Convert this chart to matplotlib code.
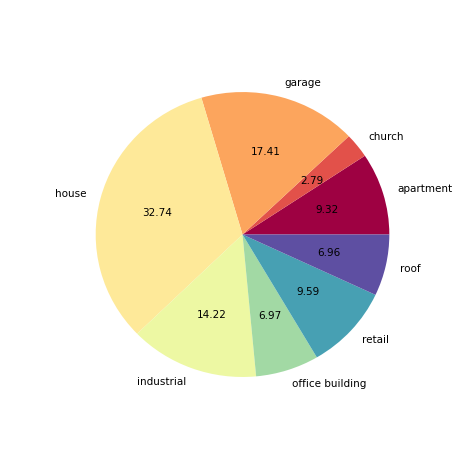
import numpy as np
import matplotlib
matplotlib.use("Agg")
import matplotlib.pyplot as plt

labels = ['apartment', 'church', 'garage', 'house', 'industrial',
          'office building', 'retail', 'roof']
values = [9.32, 2.79, 17.41, 32.74, 14.22, 6.97, 9.59, 6.96]

colors = plt.cm.Spectral(np.linspace(0, 1, len(values)))

fig = plt.figure(figsize=(4.73, 4.73), dpi=100)
ax = fig.add_axes([0.1247, 0.1277, 0.776, 0.753])
ax.pie(values, labels=labels, colors=colors, autopct='%.2f',
       textprops={'fontsize': 7.5})
# slightly wider than tall, as in the reference
ax.set_aspect('auto')
ax.set_xlim(-1.25, 1.25)
ax.set_ylim(-1.25, 1.25)
fig.savefig('out.png', dpi=100)
